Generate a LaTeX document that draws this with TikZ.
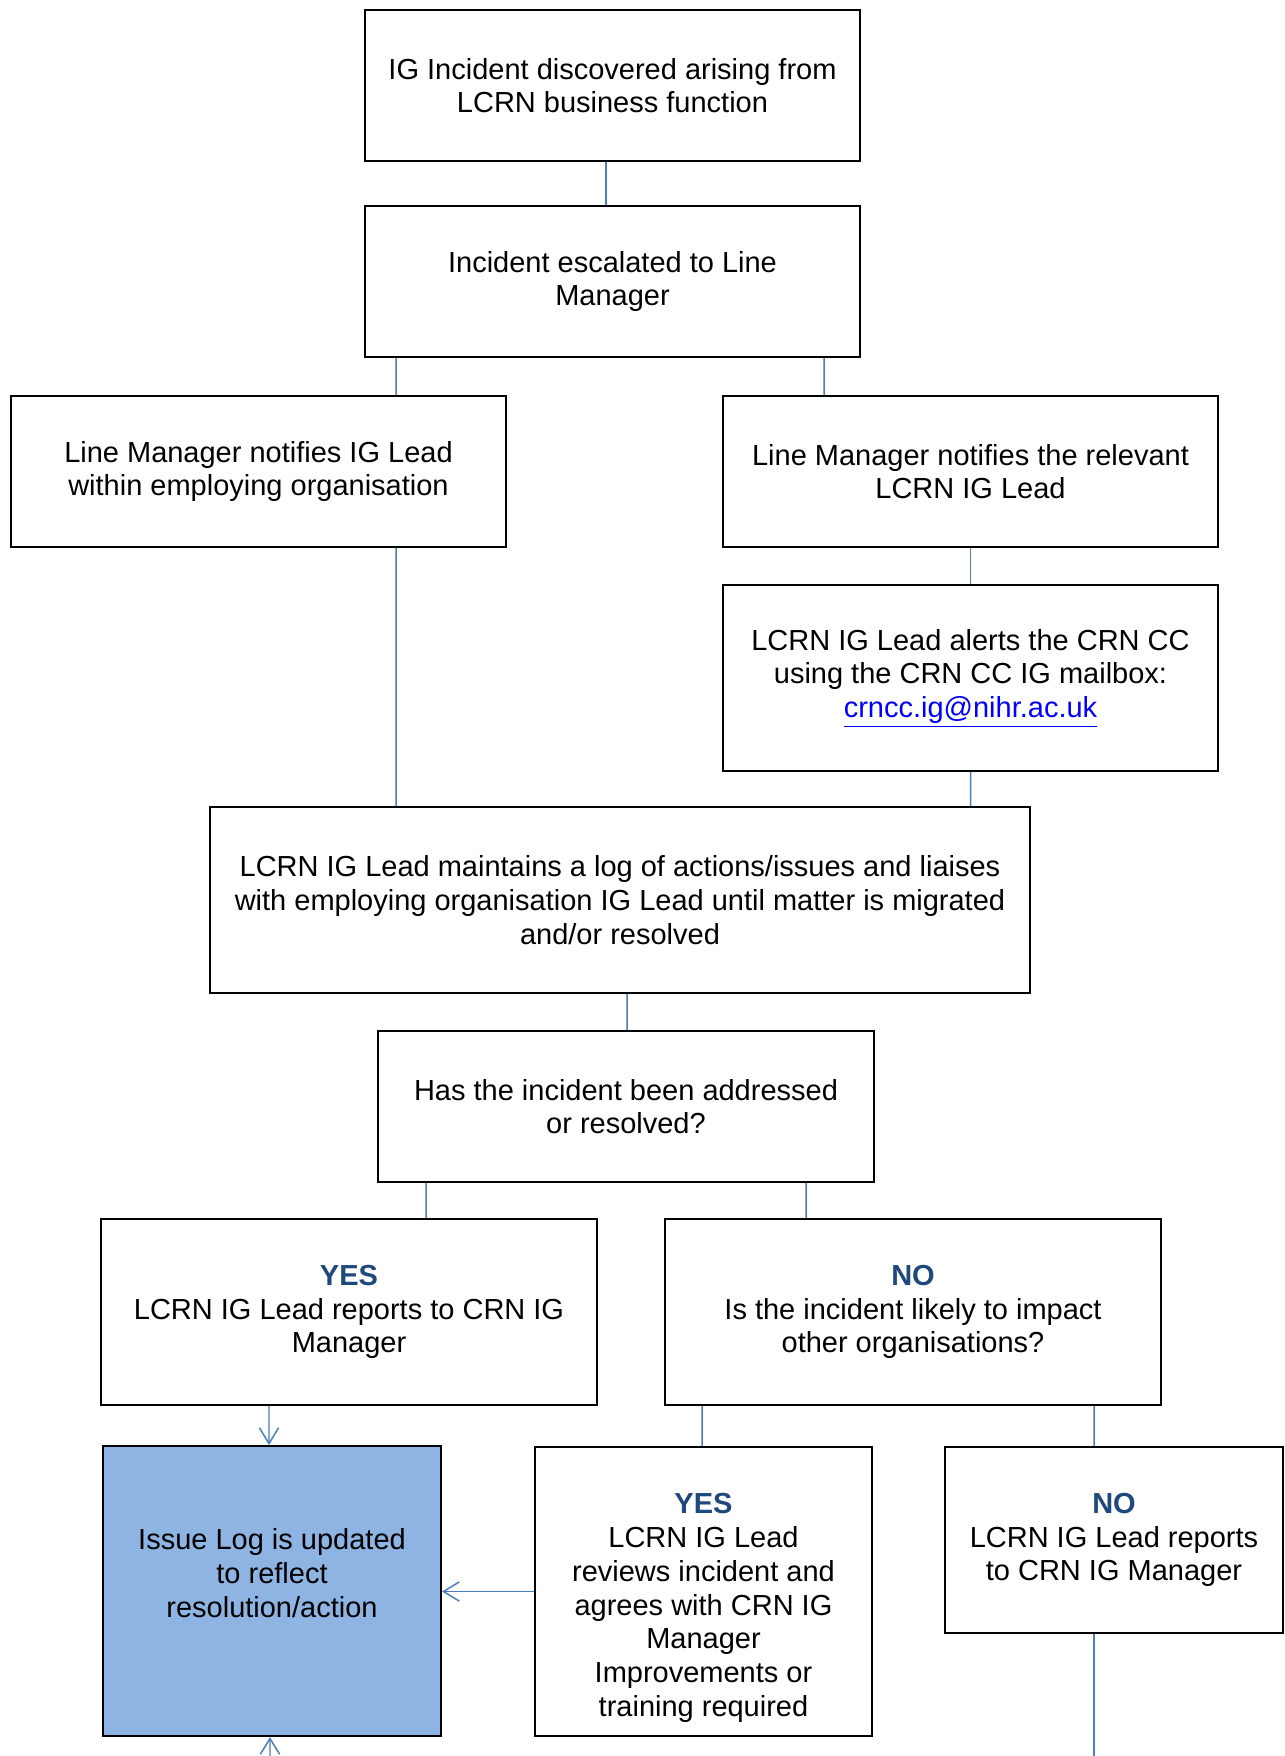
\documentclass[tikz,border=0pt]{standalone}
\usepackage{fontspec}
\usepackage{xcolor}
\usetikzlibrary{arrows.meta}
\setmainfont{Liberation Sans}

\definecolor{linkblue}{RGB}{74,126,187}
\definecolor{logblue}{RGB}{141,180,226}
\definecolor{headblue}{RGB}{31,73,125}
\definecolor{mailblue}{RGB}{0,0,255}

\newcommand{\yesno}[1]{\textcolor{headblue}{\textbf{#1}}}

\begin{document}
\begin{tikzpicture}[
    box/.style={draw, line width=1.2pt, inner sep=0pt, align=center,
        font=\fontsize{16.5}{19.2}\selectfont},
    boxtext/.style={align=center, font=\fontsize{16.5}{19.2}\selectfont},
    link/.style={draw=linkblue, line width=0.85pt},
    arrowlink/.style={link, -{Straight Barb[length=9pt,width=11pt]}}
]
            \useasboundingbox (0,0) rectangle (25.68,-35.12);

            % Top of the flow
            \node[box, minimum width=9.9cm, minimum height=3.02cm] (found) at (12.25,-1.71)
                {IG Incident discovered arising from\\LCRN business function};
            \node[box, minimum width=9.9cm, minimum height=3.02cm] (escalate) at (12.25,-5.63)
                {Incident escalated to Line\\Manager};

            % Two notification routes
            \node[box, minimum width=9.9cm, minimum height=3.02cm] (notifyorg) at (5.17,-9.43)
                {Line Manager notifies IG Lead\\within employing organisation};
            \node[box, minimum width=9.9cm, minimum height=3.02cm] (notifylcrn) at (19.41,-9.43)
                {Line Manager notifies the relevant\\LCRN IG Lead};
            \node[box, minimum width=9.9cm, minimum height=3.72cm] (alert) at (19.41,-13.56)
                {LCRN IG Lead alerts the CRN CC\\using the CRN CC IG mailbox:\\\textcolor{mailblue}{\underline{crncc.ig@nihr.ac.uk}}};

            % Log and decision
            \node[box, minimum width=16.4cm, minimum height=3.72cm] (maintain) at (12.40,-18.00)
                {LCRN IG Lead maintains a log of actions/issues and liaises\\with employing organisation IG Lead until matter is migrated\\and/or resolved};
            \node[box, minimum width=9.92cm, minimum height=3.02cm] (resolved) at (12.52,-22.13)
                {Has the incident been addressed\\or resolved?};

            \node[box, minimum width=9.92cm, minimum height=3.72cm] (yesreport) at (6.98,-26.24)
                {\yesno{YES}\\LCRN IG Lead reports to CRN IG\\Manager};
            \node[box, minimum width=9.92cm, minimum height=3.72cm] (noimpact) at (18.26,-26.24)
                {\yesno{NO}\\Is the incident likely to impact\\other organisations?};

            % Bottom row
            \node[box, fill=logblue, minimum width=6.76cm, minimum height=5.80cm,
                label={[boxtext, yshift=0.36cm]center:Issue Log is updated\\to reflect\\resolution/action}] (issuelog) at (5.44,-31.82) {};
            \node[box, minimum width=6.74cm, minimum height=5.78cm,
                label={[boxtext, yshift=-0.33cm]center:\yesno{YES}\\LCRN IG Lead\\reviews incident and\\agrees with CRN IG\\Manager\\Improvements or\\training required}] (review) at (14.07,-31.83) {};
            \node[box, minimum width=6.76cm, minimum height=3.72cm] (noreport) at (22.28,-30.80)
                {\yesno{NO}\\LCRN IG Lead reports\\to CRN IG Manager};

            \coordinate (offright) at (21.88,-35.12);
            \coordinate (offleft) at (5.40,-35.12);

            % Connectors
            \draw[link] ([xshift=-0.13cm]found.south) -- ([xshift=-0.13cm]escalate.north);
            \draw[link] ([xshift=-4.33cm]escalate.south) -- ([xshift=2.75cm]notifyorg.north);
            \draw[link] ([xshift=4.23cm]escalate.south) -- ([xshift=-2.93cm]notifylcrn.north);
            \draw[link] ([xshift=2.75cm]notifyorg.south) -- ([xshift=-4.48cm]maintain.north);
            \draw[link] (notifylcrn.south) -- (alert.north);
            \draw[link] (alert.south) -- ([xshift=7.01cm]maintain.north);
            \draw[link] ([xshift=0.14cm]maintain.south) -- ([xshift=0.02cm]resolved.north);
            \draw[link] ([xshift=-4cm]resolved.south) -- ([xshift=1.54cm]yesreport.north);
            \draw[link] ([xshift=3.6cm]resolved.south) -- ([xshift=-2.14cm]noimpact.north);
            \draw[arrowlink] ([xshift=-1.6cm]yesreport.south) -- ([xshift=-0.06cm]issuelog.north);
            \draw[link] ([xshift=-4.22cm]noimpact.south) -- ([xshift=-0.03cm]review.north);
            \draw[link] ([xshift=3.62cm]noimpact.south) -- ([xshift=-0.4cm]noreport.north);
            \draw[arrowlink] (review.west) -- (review.west -| issuelog.east);
            \draw[link] ([xshift=-0.4cm]noreport.south) -- (offright);
            \draw[arrowlink] (offleft) -- ([xshift=-0.04cm]issuelog.south);
        \end{tikzpicture}
\end{document}
